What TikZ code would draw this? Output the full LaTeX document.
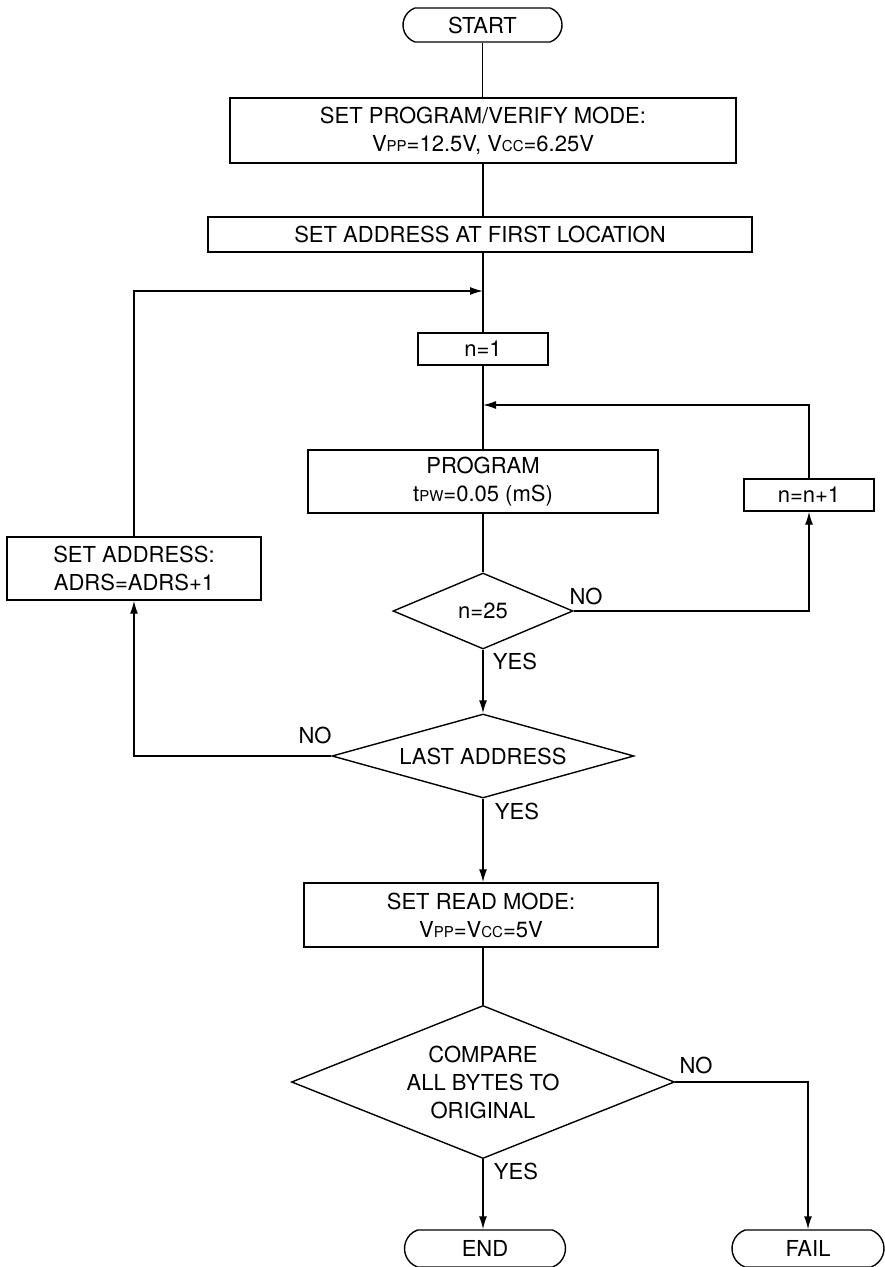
\documentclass[tikz,border=0pt]{standalone}
\usepackage{fontspec}
\setmainfont{TeX Gyre Heros}
\usetikzlibrary{shapes.geometric,shapes.misc,arrows.meta}
\newcommand\lowtxt[1]{{\fontsize{15}{15}\selectfont #1}}
\begin{document}
\begin{tikzpicture}[x=1pt,y=-1pt,
  every node/.style={font=\fontsize{22}{28}\selectfont, inner sep=0pt, align=center},
  line/.style={line width=1.4pt},
  arr/.style={line width=1.4pt, -{Latex[length=13pt,width=8pt]}},
  procbox/.style={draw, line width=1.4pt, rectangle},
  decide/.style={draw, line width=1.4pt, diamond},
  term/.style={draw, line width=1.4pt, rounded rectangle, rounded rectangle arc length=140},
  lbl/.style={}
]
\useasboundingbox (0,0) rectangle (885,1267);

% process steps
\node[term, minimum width=159pt, minimum height=34pt] (start) at (482.5,25) {START};
\node[procbox, minimum width=506pt, minimum height=65pt] (pv) at (483,130.5)
  {SET PROGRAM/VERIFY MODE:\\V\lowtxt{PP}=12.5V, V\lowtxt{CC}=6.25V};
\node[procbox, minimum width=544pt, minimum height=35pt] (first) at (480,234.5)
  {SET ADDRESS AT FIRST LOCATION};
\node[procbox, minimum width=130pt, minimum height=32pt] (n1) at (483,349) {n=1};
\node[procbox, minimum width=350pt, minimum height=63pt] (prog) at (483,481.5)
  {PROGRAM\\t\lowtxt{PW}=0.05 (mS)};
\node[procbox, minimum width=130pt, minimum height=32pt] (inc) at (809,495) {n=n+1};
\node[decide, shape aspect=2.37, minimum width=180pt, minimum height=76pt] (d25) at (483,611) {n=25};
\node[procbox, minimum width=254pt, minimum height=63pt] (adrs) at (134,568.5)
  {SET ADDRESS:\\ADRS=ADRS+1};
\node[decide, shape aspect=3.6, minimum width=302pt, minimum height=84pt] (last) at (483,756) {LAST ADDRESS};
\node[procbox, minimum width=354pt, minimum height=64pt] (read) at (481,915)
  {SET READ MODE:\\V\lowtxt{PP}=V\lowtxt{CC}=5V};
\node[decide, shape aspect=2.5, minimum width=383pt, minimum height=153pt] (cmp) at (483,1082)
  {COMPARE\\ALL BYTES TO\\ORIGINAL};
\node[term, minimum width=161pt, minimum height=37pt] (endn) at (485,1248.5) {END};
\node[term, minimum width=152pt, minimum height=37pt] (fail) at (808,1248.5) {FAIL};

% junctions on the main line
\coordinate (jaddr) at (483,291);
\coordinate (jloop) at (483,405);

% connectors
\draw[line] (start.south) -- (start.south |- pv.north);
\draw[line] (pv.south) -- (pv.south |- first.north);
\draw[line] (n1.north |- first.south) -- (n1.north);
\draw[line] (n1.south) -- (prog.north);
\draw[line] (prog.south) -- (d25.north);
\draw[arr] (adrs.north) |- (jaddr);
\draw[arr] (inc.north) |- (jloop);
\draw[arr] (d25.east) -| (inc.south);
\draw[arr] (d25.south) -- (last.north);
\draw[arr] (last.west) -| (adrs.south);
\draw[arr] (last.south) -- (last.south |- read.north);
\draw[line] (read.south -| cmp.north) -- (cmp.north);
\draw[arr] (cmp.south) -- (cmp.south |- endn.north);
\draw[arr] (cmp.east) -| (fail.north);

% branch labels
\node[lbl] (l25no) at (586,596) {NO};
\node[lbl] (l25yes) at (515,661) {YES};
\node[lbl] (llastno) at (315,735) {NO};
\node[lbl] (llastyes) at (517,811) {YES};
\node[lbl] (lcmpno) at (696,1065) {NO};
\node[lbl] (lcmpyes) at (516,1171) {YES};
\end{tikzpicture}
\end{document}
